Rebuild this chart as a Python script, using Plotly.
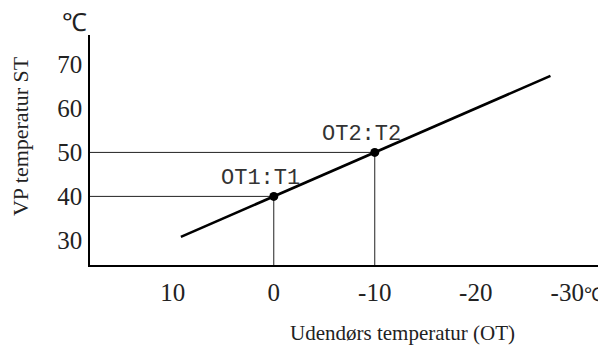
import plotly.graph_objects as go

# heating curve (outdoor temp OT -> flow temp ST)
curve_ot = [9.2, 0, -10, -27.4]
curve_st = [30.8, 40, 50, 67.4]

# the two set points
point_ot = [0, -10]
point_st = [40, 50]
point_names = ["OT1:T1", "OT2:T2"]

x_ticks = [10, 0, -10, -20, -30]
x_tick_text = ["10", "0", "-10", "-20", "-30<span style='font-size:19px'>℃</span>"]
y_ticks = [30, 40, 50, 60, 70]

SERIF = "Liberation Serif"

fig = go.Figure()

# guide lines from the axes to each set point
for ot, st in zip(point_ot, point_st):
    fig.add_trace(go.Scatter(
        x=[18.2, ot, ot], y=[st, st, 24.4],
        mode="lines",
        line=dict(color="#222222", width=1),
        hoverinfo="skip",
        showlegend=False,
    ))

fig.add_trace(go.Scatter(
    x=curve_ot, y=curve_st,
    mode="lines",
    line=dict(color="black", width=2.6),
    showlegend=False,
))

fig.add_trace(go.Scatter(
    x=point_ot, y=point_st,
    mode="markers",
    marker=dict(color="black", size=9),
    showlegend=False,
))

for ot, st, name in zip(point_ot, point_st, point_names):
    fig.add_annotation(
        x=ot, y=st, text=name, showarrow=False,
        xanchor="center", yanchor="bottom", xshift=-13, yshift=3,
        font=dict(family="Liberation Mono", size=22, color="#333333"),
    )

# unit at the top of the y axis
fig.add_annotation(
    xref="paper", yref="paper", x=-0.03, y=0.985,
    text="℃", showarrow=False, xanchor="center", yanchor="bottom",
    font=dict(family=SERIF, size=25, color="#222222"),
)
fig.add_annotation(
    xref="paper", yref="paper", x=-0.136, y=0.56,
    text="VP temperatur ST", textangle=-90, showarrow=False,
    xanchor="center", yanchor="middle",
    font=dict(family=SERIF, size=22, color="#222222"),
)
fig.add_annotation(
    xref="paper", yref="paper", x=0.605, y=-0.295,
    text="Udendørs temperatur (OT)", showarrow=False,
    xanchor="center", yanchor="middle",
    font=dict(family=SERIF, size=21, color="#222222"),
)

fig.update_xaxes(
    range=[18.2, -32.9],
    tickvals=x_ticks, ticktext=x_tick_text,
    showgrid=False, zeroline=False, automargin=False,
    showline=True, linecolor="black", linewidth=1.5,
    ticks="", ticklabelstandoff=4,
    tickfont=dict(family=SERIF, size=25, color="#222222"),
)
fig.update_yaxes(
    range=[24.4, 76.7],
    tickvals=y_ticks,
    showgrid=False, zeroline=False, automargin=False,
    showline=True, linecolor="black", linewidth=1.5,
    ticks="", ticklabelstandoff=1,
    tickfont=dict(family=SERIF, size=25, color="#222222"),
)

# page body adds an 8px offset, so the figure is drawn 8px smaller
fig.update_layout(
    width=598, height=339,
    margin=dict(l=82, r=0, t=27, b=82),
    font=dict(family=SERIF, color="#222222"),
    plot_bgcolor="white",
    paper_bgcolor="white",
)

fig.write_html("out.html")
